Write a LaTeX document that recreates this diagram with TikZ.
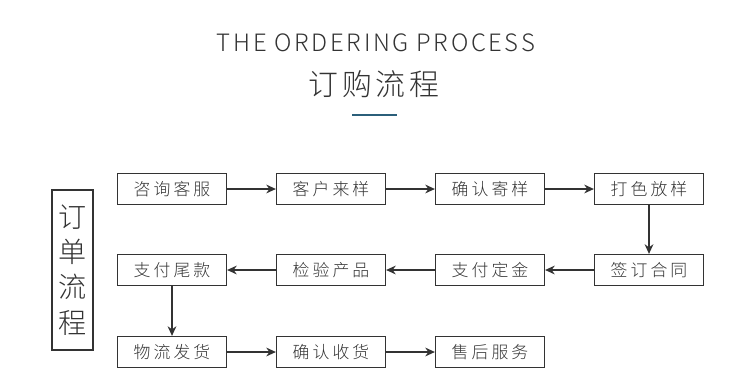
\documentclass[tikz,border=0pt]{standalone}
\usepackage{fontspec}
\setmainfont{Noto Sans CJK SC}
\newfontfamily\lightcjk{Noto Sans CJK SC Light}
\usetikzlibrary{arrows.meta}
\definecolor{inkgray}{HTML}{333333}
\definecolor{titleblue}{HTML}{2B5F7A}
\tikzset{
  stepbox/.style={draw=inkgray, line width=0.7pt, minimum width=2.18cm,
    minimum height=0.62cm, inner sep=0pt, text=inkgray,
    font=\lightcjk\fontsize{9.6}{11}\selectfont\addfontfeatures{LetterSpace=18}},
  flow/.style={-{Stealth[length=5.5pt,width=5pt]}, line width=0.85pt, draw=inkgray}
}
\begin{document}
\begin{tikzpicture}[x=0.02cm,y=-0.02cm]
  \useasboundingbox (0,0) rectangle (750,389);
  % heading
  \node[anchor=base, text=inkgray, font=\lightcjk\fontsize{13.6}{16}\selectfont\addfontfeatures{LetterSpace=11}]
    (entitle) at (376,51) {THE ORDERING PROCESS};
  \node[text=inkgray, font=\lightcjk\fontsize{17}{20}\selectfont\addfontfeatures{LetterSpace=12}]
    (zhtitle) at (374,84) {订购流程};
  \draw[titleblue, line width=1.7pt] (352,115) -- (397,115);
  % side label
  \node[draw=inkgray, line width=0.7pt, minimum width=0.82cm, minimum height=3.2cm,
    inner sep=0pt, align=center, text=inkgray, font=\lightcjk\fontsize{16}{20}\selectfont]
    (side) at (72.5,270) {订\\单\\流\\程};
  % first row
  \node[stepbox] (consult) at (172,189) {咨询客服};
  \node[stepbox] (sample)  at (331,189) {客户来样};
  \node[stepbox] (confirm) at (490,189) {确认寄样};
  \node[stepbox] (dye)     at (649,189) {打色放样};
  % second row
  \node[stepbox] (contract) at (649,270) {签订合同};
  \node[stepbox] (deposit)  at (490,270) {支付定金};
  \node[stepbox] (inspect)  at (331,270) {检验产品};
  \node[stepbox] (balance)  at (172,270) {支付尾款};
  % third row
  \node[stepbox] (ship)    at (172,352) {物流发货};
  \node[stepbox] (receive) at (331,352) {确认收货};
  \node[stepbox] (service) at (490,352) {售后服务};
  % connectors
  \draw[flow] (consult) -- (sample);
  \draw[flow] (sample) -- (confirm);
  \draw[flow] (confirm) -- (dye);
  \draw[flow] (dye) -- (contract);
  \draw[flow] (contract) -- (deposit);
  \draw[flow] (deposit) -- (inspect);
  \draw[flow] (inspect) -- (balance);
  \draw[flow] (balance) -- (ship);
  \draw[flow] (ship) -- (receive);
  \draw[flow] (receive) -- (service);
\end{tikzpicture}
\end{document}
